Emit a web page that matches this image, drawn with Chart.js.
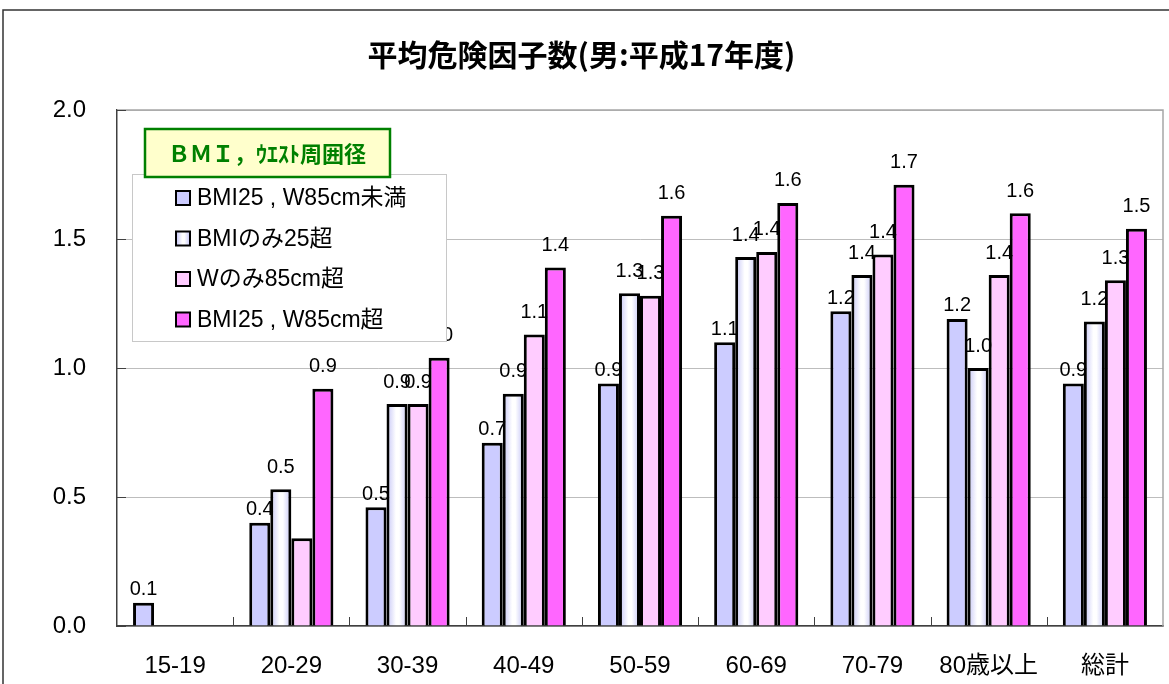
<!DOCTYPE html>
<html>
<head>
<meta charset="utf-8">
<script src="https://cdn.jsdelivr.net/npm/chart.js@4.4.1/dist/chart.umd.min.js"></script>
<style>
  html, body { margin: 0; padding: 0; background: #fff; }
  canvas { display: block; }
</style>
</head>
<body>
<canvas id="chart" width="1169" height="684"></canvas>
<script>
var categories = ["15-19", "20-29", "30-39", "40-49", "50-59", "60-69", "70-79", "80歳以上", "総計"];
var seriesNames = ["BMI25 , W85cm未満", "BMIのみ25超", "Wのみ85cm超", "BMI25 , W85cm超"];
var bmiW85Under = [0.09, 0.40, 0.46, 0.71, 0.94, 1.10, 1.22, 1.19, 0.94];
var bmiOnly25   = [null, 0.53, 0.86, 0.90, 1.29, 1.43, 1.36, 1.00, 1.18];
var wOnly85     = [null, 0.34, 0.86, 1.13, 1.28, 1.45, 1.44, 1.36, 1.34];
var bmiW85Over  = [null, 0.92, 1.04, 1.39, 1.59, 1.64, 1.71, 1.60, 1.54];
var yTicks = [0, 0.5, 1.0, 1.5, 2.0];
var hiddenLabels = [[2, 1]]; // [series, category] with no value label in the original
var chartTitle = "平均危険因子数(男:平成17年度)";
var legendTitle = "ＢＭＩ，ｳｴｽﾄ周囲径";

var FONT = '"Liberation Sans", "Noto Sans CJK JP", sans-serif';

function stripeFill(c, x0, x1) {
  var g = c.createLinearGradient(x0, 0, x1, 0);
  g.addColorStop(0, '#C4C4F6');
  g.addColorStop(0.45, '#FFFFFF');
  g.addColorStop(0.6, '#FFFFFF');
  g.addColorStop(1, '#C4C4F6');
  return g;
}

function bmiOnlyFill(ctx) {
  var el = ctx.element;
  if (!el || el.x == null || !el.width) return '#E6E6FF';
  return stripeFill(ctx.chart.ctx, el.x - el.width / 2, el.x + el.width / 2);
}

var fills = ['#CCCCFF', bmiOnlyFill, '#FFCCFF', '#FF66FF'];
var swatchFills = ['#CCCCFF', null, '#FFCCFF', '#FF66FF'];
var labelGap = [3, 12, 12, 12];

function isHidden(d, i) {
  return hiddenLabels.some(function (h) { return h[0] === d && h[1] === i; });
}

var decor = {
  id: 'decor',
  beforeDraw: function (chart) {
    var c = chart.ctx;
    c.save();
    c.fillStyle = '#fff';
    c.fillRect(0, 0, chart.width, chart.height);
    c.strokeStyle = '#333';
    c.lineWidth = 1.5;
    c.beginPath();
    c.moveTo(3, chart.height);
    c.lineTo(3, 10);
    c.lineTo(chart.width, 10);
    c.stroke();
    c.restore();
  },
  beforeDatasetsDraw: function (chart) {
    var a = chart.chartArea, c = chart.ctx;
    var ys = chart.scales.y, xs = chart.scales.x;
    c.save();
    c.strokeStyle = '#A6A6A6';
    c.lineWidth = 1.5;
    c.beginPath();
    c.moveTo(a.left, a.top);
    c.lineTo(a.right, a.top);
    c.lineTo(a.right, a.bottom);
    c.stroke();
    c.strokeStyle = '#404040';
    c.lineWidth = 1;
    ys.ticks.forEach(function (t) {
      var py = Math.round(ys.getPixelForValue(t.value)) + 0.5;
      c.beginPath();
      c.moveTo(a.left, py);
      c.lineTo(a.left + 9, py);
      c.stroke();
    });
    for (var i = 1; i < categories.length; i++) {
      var px = Math.round((xs.getPixelForValue(i - 1) + xs.getPixelForValue(i)) / 2) + 0.5;
      c.beginPath();
      c.moveTo(px, a.bottom);
      c.lineTo(px, a.bottom - 9);
      c.stroke();
    }
    c.restore();
  },
  afterDatasetsDraw: function (chart) {
    var c = chart.ctx;
    c.save();
    c.font = '20px ' + FONT;
    c.fillStyle = '#000';
    c.textAlign = 'center';
    c.textBaseline = 'bottom';
    chart.data.datasets.forEach(function (ds, d) {
      chart.getDatasetMeta(d).data.forEach(function (el, i) {
        var v = ds.data[i];
        if (v == null || isHidden(d, i)) return;
        c.fillText(v.toFixed(1), el.x, el.y - labelGap[d]);
      });
    });
    c.restore();
  },
  afterDraw: function (chart) {
    var c = chart.ctx;
    c.save();
    // legend box
    c.fillStyle = '#fff';
    c.fillRect(132, 174, 314, 167);
    c.strokeStyle = '#C8C8C8';
    c.lineWidth = 1;
    c.strokeRect(132.5, 174.5, 314, 167);
    chart.data.datasets.forEach(function (ds, d) {
      var cy = 198 + d * 40.5;
      c.fillStyle = swatchFills[d] || stripeFill(c, 176, 190);
      c.fillRect(176, cy - 7, 14, 14);
      c.strokeStyle = '#000';
      c.lineWidth = 2;
      c.strokeRect(176, cy - 7, 14, 14);
      c.fillStyle = '#000';
      c.font = '23px ' + FONT;
      c.textAlign = 'left';
      c.textBaseline = 'middle';
      c.fillText(ds.label, 197, cy + 1);
    });
    // legend title box
    c.fillStyle = '#FFFFCC';
    c.fillRect(145, 129, 245, 48);
    c.strokeStyle = '#008000';
    c.lineWidth = 2.5;
    c.strokeRect(145, 129, 245, 48);
    c.fillStyle = '#008000';
    c.font = 'bold 22px "Noto Sans CJK JP", sans-serif';
    c.textAlign = 'center';
    c.textBaseline = 'middle';
    c.fillText(legendTitle, 267, 154);
    c.restore();
  }
};

var series = [bmiW85Under, bmiOnly25, wOnly85, bmiW85Over];

var chart = new Chart(document.getElementById('chart'), {
  type: 'bar',
  data: {
    labels: categories,
    datasets: series.map(function (vals, d) {
      return {
        label: seriesNames[d],
        data: vals,
        backgroundColor: fills[d],
        borderColor: '#000',
        borderWidth: 3,
        barPercentage: 1,
        categoryPercentage: 0.724
      };
    })
  },
  options: {
    responsive: false,
    animation: false,
    layout: { padding: { left: 0, right: 6, top: 0, bottom: 0 } },
    plugins: {
      legend: { display: false },
      tooltip: { enabled: false },
      title: {
        display: true,
        text: chartTitle,
        color: '#000',
        font: { family: '"Noto Sans CJK JP", sans-serif', size: 30, weight: 'bold' },
        padding: { top: 37, bottom: 37 }
      }
    },
    scales: {
      x: {
        grid: { display: false },
        border: { color: '#404040', width: 1.5 },
        ticks: {
          color: '#000',
          font: { family: FONT, size: 24 },
          padding: 18,
          maxRotation: 0,
          autoSkip: false
        },
        afterFit: function (s) { s.height = 58; }
      },
      y: {
        min: 0,
        max: 2,
        afterBuildTicks: function (s) {
          s.ticks = yTicks.map(function (v) { return { value: v }; });
        },
        grid: { color: '#BDBDBD', lineWidth: 1, drawTicks: false },
        border: { color: '#404040', width: 1.5 },
        ticks: {
          color: '#000',
          font: { family: FONT, size: 24 },
          padding: 31,
          callback: function (v) { return Number(v).toFixed(1); }
        },
        afterFit: function (s) { s.width = 117; }
      }
    }
  },
  plugins: [decor]
});
chart.update('none');
</script>
</body>
</html>
